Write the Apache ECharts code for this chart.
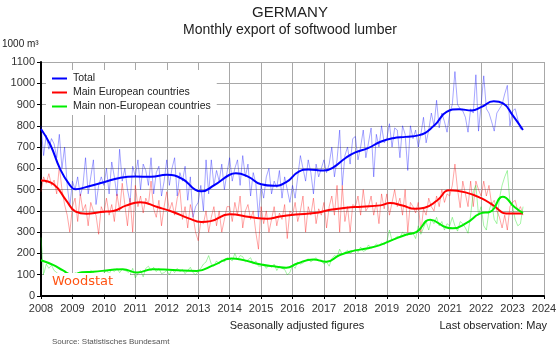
<!DOCTYPE html>
<html>
<head>
<meta charset="utf-8">
<script src="https://cdn.jsdelivr.net/npm/echarts@6/dist/echarts.min.js"></script>
<style>
  html, body { margin: 0; padding: 0; background: #fff; }
  #chart { width: 560px; height: 351px; }
</style>
</head>
<body>
<div id="chart"></div>
<script>
// monthly values, Jan 2008 .. May 2023 (1000 m3)
var startYear = 2008
var totalMonthly = [
  800, 660, 755, 690, 740, 715, 650, 760, 600, 700, 520, 420,
  540, 500, 560, 470, 520, 650, 480, 560, 640, 430, 520, 560,
  520, 600, 480, 630, 560, 470, 690, 540, 600, 500, 440, 610,
  560, 640, 500, 620, 590, 520, 650, 480, 580, 610, 470, 540,
  640, 520, 600, 650, 470, 580, 540, 610, 450, 560, 370, 420,
  440, 520, 400, 640, 480, 640, 520, 590, 540, 620, 500, 580,
  650, 540, 600, 640, 520, 660, 560, 620, 470, 580, 530, 370,
  520, 460, 560, 600, 480, 540, 510, 590, 460, 560, 500, 440,
  520, 460, 560, 660, 600, 540, 640, 580, 480, 620, 560, 600,
  640, 580, 620, 700, 560, 640, 780, 520, 660, 700, 620, 740,
  750, 640, 700, 780, 650, 720, 790, 560, 760, 700, 800, 720,
  740, 810, 700, 790, 780, 650, 800, 760, 590, 800, 740, 780,
  700, 760, 840, 720, 780, 860, 800, 920, 790, 860, 820, 770,
  860, 900, 1055, 900, 880, 870, 840, 770, 880, 860, 1040, 775,
  900, 1035, 880, 860, 820, 775, 860, 880, 900, 950, 990, 800,
  870, 880, 830, 785, 790
]
var europeMonthly = [
  490, 560, 530, 575, 520, 545, 480, 610, 500, 430, 380, 300,
  420, 460, 350, 480, 400, 430, 330, 440, 400, 380, 290, 420,
  390, 460, 380, 430, 350, 480, 400, 530, 430, 330, 460, 300,
  520, 420, 470, 390, 460, 430, 540, 410, 370, 450, 330, 420,
  490, 400, 440, 380, 460, 500, 360, 420, 320, 430, 380, 300,
  260, 350, 340, 400, 300, 370, 420, 330, 400, 300, 360, 420,
  420, 350, 440, 380, 470, 320, 400, 430, 360, 400, 300, 220,
  420, 340, 400, 300, 360, 420, 330, 390, 360, 430, 270, 400,
  380, 440, 350, 400, 470, 300, 420, 380, 460, 340, 410, 380,
  440, 320, 420, 470, 380, 520, 300, 520, 350, 420, 300, 430,
  420, 470, 380, 500, 400, 420, 470, 380, 440, 340, 480, 410,
  480, 380, 440, 500, 420, 460, 380, 500, 300, 440, 420, 390,
  440, 300, 410, 380, 460, 420, 400, 470, 420, 500, 440, 480,
  470, 520, 620, 500, 415, 540, 480, 420, 540, 420, 540, 500,
  470, 540, 470, 520, 430, 450, 400, 370, 320, 380, 310, 420,
  440, 450, 400, 420, 380
]
var nonEuropeMonthly = [
  275, 100, 150, 130, 145, 120, 110, 100, 95, 110, 100, 105,
  95, 110, 100, 105, 90, 110, 105, 120, 110, 100, 105, 95,
  110, 120, 105, 125, 115, 130, 110, 125, 120, 115, 100, 130,
  85, 105, 120, 90, 130, 140, 120, 135, 115, 130, 105, 110,
  120, 100, 125, 110, 130, 115, 125, 105, 120, 135, 110, 100,
  115, 130, 150, 160, 190, 150, 140, 165, 150, 170, 160, 180,
  175, 165, 200, 170, 190, 185, 160, 170, 180, 150, 165, 140,
  140, 150, 130, 145, 135, 150, 120, 140, 130, 125, 100, 110,
  145, 130, 160, 150, 155, 165, 175, 160, 170, 180, 165, 170,
  150, 160, 140, 175, 190, 185, 220, 195, 205, 215, 200, 210,
  220, 205, 230, 210, 215, 240, 225, 230, 245, 235, 250, 240,
  255, 310, 260, 270, 280, 275, 300, 290, 285, 300, 295, 270,
  330, 290, 320, 350, 310, 360, 340, 370, 330, 350, 310, 340,
  330, 370, 330, 305, 350, 340, 320, 295, 380, 490, 520, 380,
  420, 330, 310, 400, 440, 360, 340, 460, 520, 560, 590, 440,
  420, 360, 330, 340, 420
]

// trend knots: [year, value]
var totalTrend = [
  [2008.0, 785], [2008.3, 710], [2008.6, 600], [2008.9, 525], [2009.1, 502], [2009.5, 515],
  [2010.0, 535], [2010.5, 555], [2011.0, 562], [2011.5, 560], [2012.0, 570], [2012.5, 550],
  [2012.9, 500], [2013.1, 492], [2013.5, 520], [2014.0, 570], [2014.2, 577], [2014.6, 560],
  [2015.0, 525], [2015.4, 518], [2015.8, 535], [2016.2, 585], [2016.5, 595], [2017.0, 590],
  [2017.3, 605], [2017.7, 650], [2018.0, 675], [2018.4, 695], [2018.8, 725], [2019.2, 742],
  [2019.6, 748], [2020.0, 755], [2020.5, 800], [2020.9, 865], [2021.3, 878], [2021.7, 872],
  [2022.0, 888], [2022.4, 915], [2022.7, 905], [2023.0, 850], [2023.33, 780]
]
var europeTrend = [
  [2008.0, 543], [2008.4, 525], [2008.8, 450], [2009.1, 397], [2009.45, 387], [2009.9, 395],
  [2010.3, 400], [2010.7, 425], [2011.15, 441], [2011.7, 418], [2012.2, 395], [2012.7, 365],
  [2013.1, 348], [2013.4, 352], [2014.0, 384], [2014.65, 371], [2015.2, 363], [2015.6, 374],
  [2016.1, 383], [2016.7, 390], [2017.2, 405], [2017.7, 415], [2018.2, 420], [2018.8, 426],
  [2019.1, 437], [2019.5, 425], [2019.9, 410], [2020.2, 415], [2020.6, 449], [2021.0, 497],
  [2021.5, 487], [2022.0, 460], [2022.4, 425], [2022.8, 388], [2023.33, 388]
]
var nonEuropeTrend = [
  [2008.0, 168], [2008.4, 145], [2008.7, 120], [2009.0, 100], [2009.3, 112], [2009.66, 114],
  [2010.2, 122], [2010.6, 126], [2011.05, 110], [2011.55, 126], [2012.2, 122], [2012.95, 118],
  [2013.5, 145], [2014.05, 176], [2014.35, 172], [2015.0, 148], [2015.5, 138], [2015.8, 133],
  [2016.15, 153], [2016.66, 172], [2017.08, 161], [2017.5, 192], [2017.93, 212], [2018.36, 223],
  [2018.78, 239], [2019.2, 265], [2019.63, 289], [2019.95, 301], [2020.38, 358], [2020.9, 322],
  [2021.1, 318], [2021.55, 345], [2021.96, 387], [2022.3, 397], [2022.69, 467], [2023.06, 418],
  [2023.33, 390]
]
var seriesNames = ['Total', 'Main European countries', 'Main non-European countries']
var yearTicks = { min: 2008, max: 2024 }
var valueTicks = { min: 0, max: 1100, step: 100 }

function monthly(arr) {
  var out = []
  for (var i = 0; i < arr.length; i++) {
    out.push([startYear + i / 12, arr[i]])
  }
  return out
}

var font = 'Liberation Sans'
var chart = echarts.init(document.getElementById('chart'))

function thin(data, color) {
  return {
    type: 'line',
    data: monthly(data),
    showSymbol: false,
    silent: true,
    z: 2,
    lineStyle: { width: 1, color: color, opacity: 0.35 },
  }
}
function thick(name, data, color) {
  return {
    name: name,
    type: 'line',
    data: data,
    smooth: 0.5,
    showSymbol: false,
    z: 3,
    itemStyle: { color: color },
    lineStyle: { width: 2, color: color },
  }
}

var option = {
  animation: false,
  backgroundColor: '#fff',
  grid: { left: 41, right: 16, top: 62, bottom: 55 },
  legend: {
    data: seriesNames,
    orient: 'vertical',
    left: 46,
    top: 70,
    itemGap: 3,
    itemWidth: 15,
    itemHeight: 2,
    icon: 'rect',
    backgroundColor: '#fff',
    padding: [3, 6, 3, 6],
    textStyle: { fontFamily: font, fontSize: 10.5, color: '#222', padding: [0, 0, 0, 1] },
    z: 10,
  },
  xAxis: {
    type: 'value',
    min: yearTicks.min,
    max: yearTicks.max,
    interval: 1,
    axisLine: { show: true, onZero: false, lineStyle: { color: '#000', width: 2 } },
    axisTick: { show: true, length: 3, lineStyle: { color: '#000' } },
    axisLabel: { fontFamily: font, fontSize: 11, color: '#333', margin: 7, formatter: function (v) { return String(v) } },
    splitLine: { show: true, lineStyle: { color: '#a8a8a8', width: 1 } },
  },
  yAxis: {
    type: 'value',
    min: valueTicks.min,
    max: valueTicks.max,
    interval: valueTicks.step,
    axisLine: { show: true, lineStyle: { color: '#000', width: 2 } },
    axisTick: { show: true, length: 4, lineStyle: { color: '#000' } },
    axisLabel: { fontFamily: font, fontSize: 11, color: '#333', margin: 6, formatter: function (v) { return String(v) } },
    splitLine: { show: true, lineStyle: { color: '#a8a8a8', width: 1 } },
  },
  graphic: [
    { type: 'text', x: 290, y: 13, style: { text: 'GERMANY', fill: '#222', font: '15px ' + font, textAlign: 'center', verticalAlign: 'middle' } },
    { type: 'text', x: 290, y: 30, style: { text: 'Monthly export of softwood lumber', fill: '#222', font: '14px ' + font, textAlign: 'center', verticalAlign: 'middle' } },
    { type: 'text', x: 2, y: 44, style: { text: '1000 m³', fill: '#222', font: '10px ' + font, textAlign: 'left', verticalAlign: 'middle' } },
    { type: 'rect', z: 50, shape: { x: 44, y: 273, width: 86, height: 21 }, style: { fill: '#fff' } },
    { type: 'text', z: 51, x: 52, y: 282, style: { text: 'Woodstat', fill: '#ff5414', font: '13px DejaVu Sans', textAlign: 'left', verticalAlign: 'middle' } },
    { type: 'text', x: 297, y: 326, style: { text: 'Seasonally adjusted figures', fill: '#222', font: '11px ' + font, textAlign: 'center', verticalAlign: 'middle' } },
    { type: 'text', x: 547, y: 326, style: { text: 'Last observation: May', fill: '#222', font: '11px ' + font, textAlign: 'right', verticalAlign: 'middle' } },
    { type: 'text', x: 52, y: 342, style: { text: 'Source: Statistisches Bundesamt', fill: '#555', font: '8px ' + font, textAlign: 'left', verticalAlign: 'middle' } },
  ],
  series: [
    thin(totalMonthly, '#0000ff'),
    thin(europeMonthly, '#ff0000'),
    thin(nonEuropeMonthly, '#00e000'),
    thick(seriesNames[0], totalTrend, '#0000ff'),
    thick(seriesNames[1], europeTrend, '#ff0000'),
    thick(seriesNames[2], nonEuropeTrend, '#00ee00'),
  ],
}
chart.setOption(option)
</script>
</body>
</html>
